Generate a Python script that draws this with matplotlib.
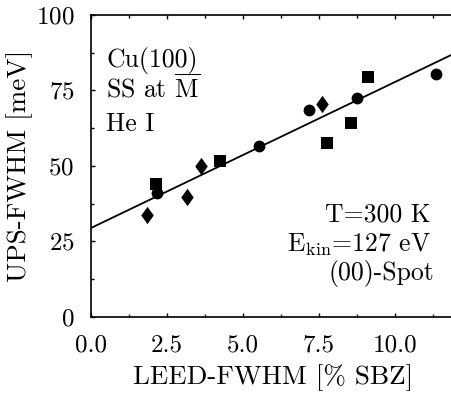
import numpy as np
import matplotlib
matplotlib.use("Agg")
import matplotlib.pyplot as plt
from matplotlib.ticker import MultipleLocator, FormatStrFormatter
from matplotlib.path import Path

plt.rcParams['font.family'] = ['cmr10', 'DejaVu Serif']
plt.rcParams['mathtext.fontset'] = 'cm'
plt.rcParams['axes.formatter.use_mathtext'] = True

# LEED-FWHM [% SBZ] vs UPS-FWHM [meV]
x_diamond = [1.85, 3.15, 3.61, 7.59]
y_diamond = [33.8, 39.8, 49.8, 70.5]
x_square = [2.13, 4.24, 7.75, 8.54, 9.12]
y_square = [43.9, 51.7, 57.5, 64.3, 79.4]
x_circle = [2.16, 5.53, 7.18, 8.74, 11.35]
y_circle = [41.0, 56.6, 68.5, 72.4, 80.5]

# linear fit
fit_intercept = 29.4
fit_slope = 4.84

# slightly tall diamond like in the paper
diamond = Path([(0, 1), (0.72, 0), (0, -1), (-0.72, 0), (0, 1)],
               [Path.MOVETO, Path.LINETO, Path.LINETO, Path.LINETO, Path.CLOSEPOLY])

fig = plt.figure(figsize=(4.51, 3.96), dpi=100)
ax = fig.add_axes([0.2018, 0.2003, 0.809, 0.7619])

xx = np.array([0.0, 12.0])
ax.plot(xx, fit_intercept + fit_slope * xx, color='black', lw=1.3)

ax.plot(x_diamond, y_diamond, linestyle='none', marker=diamond, color='black', ms=12.5, mew=0)
ax.plot(x_square, y_square, 's', color='black', ms=8, mew=0)
ax.plot(x_circle, y_circle, 'o', color='black', ms=8.5, mew=0)

ax.set_xlim(0, 12)
ax.set_ylim(0, 100)
ax.xaxis.set_major_locator(MultipleLocator(2.5))
ax.xaxis.set_minor_locator(MultipleLocator(1.25))
ax.yaxis.set_major_locator(MultipleLocator(25))
ax.yaxis.set_minor_locator(MultipleLocator(12.5))
ax.xaxis.set_major_formatter(FormatStrFormatter('%.1f'))
ax.tick_params(which='both', direction='in', top=True, right=True, labelsize=18)
ax.tick_params(axis='x', pad=13)
ax.tick_params(axis='y', pad=12)
ax.tick_params(which='major', length=3, width=1)
ax.tick_params(which='minor', length=2, width=1)
for s in ax.spines.values():
    s.set_linewidth(1.2)

ax.set_xlabel('LEED-FWHM [% SBZ]', fontsize=19.5, labelpad=5)
ax.set_ylabel('UPS-FWHM [meV]', fontsize=19.5, labelpad=2)

tr = fig.transFigure
fs = 18.5
fig.text(106 / 451, 1 - 67 / 396, 'Cu(100)', fontsize=fs, va='baseline', ha='left', transform=tr)
fig.text(106 / 451, 1 - 98 / 396, r'SS at $\overline{\mathrm{M}}$', fontsize=fs, va='baseline', ha='left', transform=tr)
fig.text(106 / 451, 1 - 131 / 396, 'He I', fontsize=fs, va='baseline', ha='left', transform=tr)
fig.text(431 / 451, 1 - 222 / 396, 'T=300 K', fontsize=fs, va='baseline', ha='right', transform=tr)
fig.text(431 / 451, 1 - 252 / 396, r'E$_{\mathrm{kin}}$=127 eV', fontsize=fs, va='baseline', ha='right', transform=tr)
fig.text(434 / 451, 1 - 280 / 396, '(00)-Spot', fontsize=fs, va='baseline', ha='right', transform=tr)

fig.savefig('out.png', dpi=100)
